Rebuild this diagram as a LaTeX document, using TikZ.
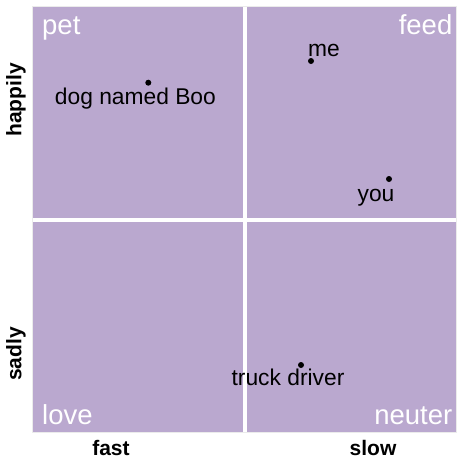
\documentclass[tikz,border=0pt]{standalone}
\usepackage{fontspec}
\setmainfont{Liberation Sans}
\usetikzlibrary{positioning}
\definecolor{lilac}{RGB}{186,168,207}
\definecolor{rim}{RGB}{235,235,235}
\tikzset{
  corner/.style={text=white,font=\fontsize{27.5}{28}\selectfont,inner sep=0pt},
  who/.style={font=\fontsize{22.8}{23}\selectfont,inner sep=0pt,anchor=base},
  axislab/.style={font=\fontsize{21}{21}\selectfont\bfseries,inner sep=0pt},
  spot/.style={circle,fill=black,inner sep=0pt,minimum size=6pt},
  gap/.style={white,line width=4pt},
}
\begin{document}
\begin{tikzpicture}[x=1pt,y=-1pt]
  \useasboundingbox (0,0) rectangle (464,466);
  \fill[white] (0,0) rectangle (464,466);
  % panel
  \fill[lilac] (33,7) rectangle (456,432);
  \draw[rim] (32.5,6.5) rectangle (456.5,432.5);
  \draw[gap] (245,7) -- (245,432);
  \draw[gap] (33,220) -- (456,220);
  % quadrant names
  \node[corner,anchor=base west] (pet) at (42,34.7) {pet};
  \node[corner,anchor=base east] (feed) at (452.5,34.7) {feed};
  \node[corner,anchor=base west] (love) at (42,424.3) {love};
  \node[corner,anchor=base east] (neuter) at (452.5,424.3) {neuter};
  % points
  \node[spot] (boo) at (148.3,82.7) {};
  \node[who] (boolab) at (135.4,104.3) {dog named Boo};
  \node[spot] (me) at (311,61) {};
  \node[who] (melab) at (324,56.7) {me};
  \node[spot] (you) at (389,179) {};
  \node[who] (youlab) at (376,201) {you};
  \node[spot] (truck) at (301,365) {};
  \node[who] (trucklab) at (288,385.7) {truck driver};
  % axes
  \node[axislab,anchor=base] (fast) at (111,455) {fast};
  \node[axislab,anchor=base] (slow) at (373,455) {slow};
  \node[axislab,rotate=90] (happily) at (16,100) {happily};
  \node[axislab,rotate=90] (sadly) at (16,354) {sadly};
\end{tikzpicture}
\end{document}
